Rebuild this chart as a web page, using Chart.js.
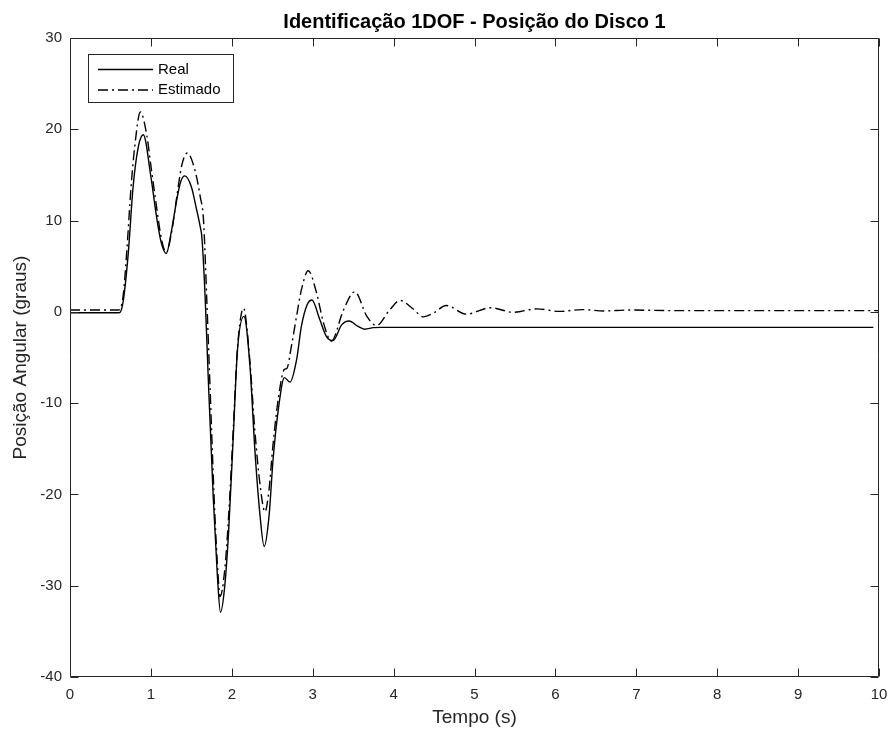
<!DOCTYPE html>
<html><head><meta charset="utf-8">
<script src="https://cdn.jsdelivr.net/npm/chart.js@4.4.0/dist/chart.umd.min.js"></script>
<style>html,body{margin:0;padding:0;background:#fff}canvas{display:block}</style>
</head><body>
<canvas id="c" width="893" height="733"></canvas>
<script>
const titleText = 'Identificação 1DOF - Posição do Disco 1';
const xLabel = 'Tempo (s)';
const yLabel = 'Posição Angular (graus)';
const seriesNames = ['Real', 'Estimado'];
const xTicks = [0, 1, 2, 3, 4, 5, 6, 7, 8, 9, 10];
const yTicks = [-40, -30, -20, -10, 0, 10, 20, 30];

const tReal = [0, 0.6, 0.62, 0.66, 0.72, 0.78, 0.845, 0.906, 1.0, 1.07, 1.13, 1.19, 1.257, 1.32, 1.37, 1.42, 1.50, 1.56, 1.61, 1.63, 1.67, 1.71, 1.77, 1.82, 1.86, 1.91, 1.96, 2.02, 2.07, 2.15, 2.225, 2.285, 2.35, 2.40, 2.46, 2.51, 2.575, 2.65, 2.72, 2.80, 2.86, 2.93, 2.99, 3.09, 3.17, 3.25, 3.36, 3.45, 3.56, 3.645, 3.75, 3.85, 9.93];
const vReal = [-0.1, -0.1, -0.05, 1.3, 6.4, 13.7, 18.1, 19.4, 14.8, 10.4, 7.5, 6.4, 9.0, 12.3, 14.3, 14.9, 13.7, 11.4, 9.3, 8.2, 1.7, -7.5, -20.2, -28.6, -32.9, -30.3, -24.2, -13.3, -4.2, -0.5, -6.0, -15.1, -22.4, -25.7, -22.4, -16.2, -10.7, -7.2, -7.7, -5.3, -1.6, 0.75, 1.3, -0.9, -2.7, -3.15, -1.4, -1.0, -1.6, -1.9, -1.73, -1.7, -1.7];

const tEst = [0, 0.6, 0.62, 0.66, 0.70, 0.755, 0.80, 0.87, 0.95, 1.0, 1.07, 1.13, 1.19, 1.257, 1.32, 1.38, 1.45, 1.545, 1.61, 1.65, 1.69, 1.73, 1.78, 1.82, 1.855, 1.91, 1.96, 2.02, 2.07, 2.145, 2.22, 2.285, 2.35, 2.41, 2.46, 2.51, 2.575, 2.65, 2.68, 2.74, 2.80, 2.86, 2.945, 3.05, 3.13, 3.23, 3.38, 3.52, 3.67, 3.79, 3.95, 4.08, 4.23, 4.37, 4.5, 4.65, 4.9, 5.2, 5.48, 5.77, 6.05, 6.33, 6.6, 6.9, 7.5, 10];
const vEst = [0.2, 0.2, 0.3, 2.0, 6.4, 13.7, 18.1, 21.9, 19.3, 16.0, 11.5, 8.0, 6.5, 8.8, 12.6, 16.0, 17.4, 15.5, 12.6, 10.1, 1.5, -8.0, -20.0, -27.3, -31.2, -28.5, -22.5, -12.5, -4.0, 0.4, -5.0, -13.0, -19.0, -21.9, -19.5, -14.5, -9.5, -6.3, -6.2, -3.6, -0.5, 2.4, 4.5, 2.0, -1.1, -3.2, 0.2, 2.2, -0.5, -1.5, 0.2, 1.25, 0.4, -0.55, -0.1, 0.7, -0.25, 0.45, -0.05, 0.33, 0.05, 0.25, 0.1, 0.2, 0.13, 0.13];

const AX = '#262626';
const FONT = "'Liberation Sans', Arial, sans-serif";
const DASHDOT = [10, 4, 2, 4];
const LW = 1.4;

const toXY = (ts, vs) => ts.map((t, i) => ({x: t, y: vs[i]}));

const decorPlugin = {
  id: 'decor',
  afterDraw(chart) {
    const ctx = chart.ctx;
    const a = chart.chartArea;
    const xs = chart.scales.x, ys = chart.scales.y;
    const L = Math.round(a.left) + 0.5, R = Math.round(a.right) - 0.5;
    const T = Math.round(a.top) + 0.5, B = Math.round(a.bottom) - 0.5;
    ctx.save();
    ctx.strokeStyle = AX;
    ctx.lineWidth = 1;
    ctx.beginPath();
    ctx.rect(L, T, R - L, B - T);
    ctx.stroke();
    const tl = 8;
    ctx.beginPath();
    xTicks.forEach(v => {
      const px = Math.round(xs.getPixelForValue(v)) + 0.5;
      ctx.moveTo(px, B); ctx.lineTo(px, B - tl);
      ctx.moveTo(px, T); ctx.lineTo(px, T + tl);
    });
    yTicks.forEach(v => {
      const py = Math.round(ys.getPixelForValue(v)) + 0.5;
      ctx.moveTo(L, py); ctx.lineTo(L + tl, py);
      ctx.moveTo(R, py); ctx.lineTo(R - tl, py);
    });
    ctx.stroke();

    // legend
    const lx = 88.5, ly = 54.5, lw = 145, lh = 48;
    ctx.fillStyle = '#fff';
    ctx.fillRect(lx, ly, lw, lh);
    ctx.strokeStyle = AX;
    ctx.lineWidth = 1;
    ctx.strokeRect(lx, ly, lw, lh);
    const rows = [69.5, 90];
    ctx.strokeStyle = '#000';
    ctx.lineWidth = LW;
    rows.forEach((y, i) => {
      ctx.setLineDash(i === 0 ? [] : DASHDOT);
      ctx.beginPath();
      ctx.moveTo(98, y); ctx.lineTo(153, y);
      ctx.stroke();
    });
    ctx.setLineDash([]);
    ctx.fillStyle = '#000';
    ctx.font = '15px ' + FONT;
    ctx.textAlign = 'left';
    ctx.textBaseline = 'middle';
    rows.forEach((y, i) => ctx.fillText(seriesNames[i], 158, y));

    // title
    ctx.fillStyle = '#000';
    ctx.font = 'bold 20px ' + FONT;
    ctx.textAlign = 'center';
    ctx.textBaseline = 'middle';
    ctx.fillText(titleText, (a.left + a.right) / 2, 22);

    // axis titles
    ctx.fillStyle = AX;
    ctx.font = '19px ' + FONT;
    ctx.fillText(xLabel, (a.left + a.right) / 2, 718);
    ctx.translate(21, (a.top + a.bottom) / 2);
    ctx.rotate(-Math.PI / 2);
    ctx.fillText(yLabel, 0, 0);
    ctx.restore();
  }
};

new Chart(document.getElementById('c'), {
  type: 'line',
  data: {
    datasets: [
      {label: seriesNames[0], data: toXY(tReal, vReal), borderColor: '#000', borderWidth: LW, pointRadius: 0, fill: false, cubicInterpolationMode: 'monotone'},
      {label: seriesNames[1], data: toXY(tEst, vEst), borderColor: '#000', borderWidth: LW, borderDash: DASHDOT, pointRadius: 0, fill: false, cubicInterpolationMode: 'monotone'}
    ]
  },
  options: {
    responsive: false,
    animation: false,
    devicePixelRatio: 1,
    layout: {padding: {left: 0, right: 14, top: 38, bottom: 0}},
    plugins: {legend: {display: false}, tooltip: {enabled: false}, title: {display: false}},
    scales: {
      x: {
        type: 'linear', min: 0, max: 10,
        grid: {display: false, drawTicks: false}, border: {display: false},
        afterBuildTicks: s => { s.ticks = xTicks.map(v => ({value: v})); },
        afterFit: s => { s.height = 56; s.paddingRight = 0; s.paddingLeft = 0; },
        ticks: {color: AX, font: {family: FONT, size: 15}, padding: 9, maxRotation: 0, autoSkip: false}
      },
      y: {
        type: 'linear', min: -40, max: 30,
        grid: {display: false, drawTicks: false}, border: {display: false},
        afterBuildTicks: s => { s.ticks = yTicks.map(v => ({value: v})); },
        afterFit: s => { s.width = 70; s.paddingTop = 0; s.paddingBottom = 0; },
        ticks: {color: AX, font: {family: FONT, size: 15}, padding: 8}
      }
    }
  },
  plugins: [decorPlugin]
});
</script>
</body></html>
